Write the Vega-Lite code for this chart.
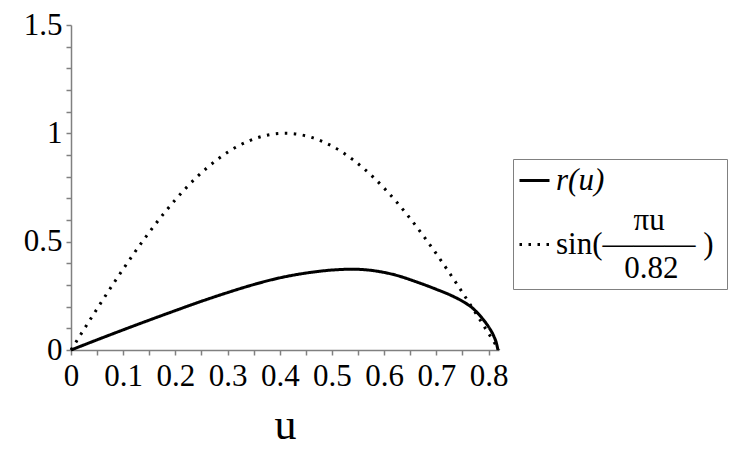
{
  "$schema": "https://vega.github.io/schema/vega-lite/v6.json",
  "autosize": "none",
  "width": 428,
  "height": 325,
  "padding": {"left": 71, "top": 25, "right": 233, "bottom": 100},
  "background": "white",
  "config": {
    "view": {"stroke": null},
    "font": "Liberation Serif"
  },
  "data": {"values": [
    {"u": 0, "v": 0, "series": "r(u)"},
    {"u": 0.05, "v": 0.047, "series": "r(u)"},
    {"u": 0.1, "v": 0.093, "series": "r(u)"},
    {"u": 0.15, "v": 0.138, "series": "r(u)"},
    {"u": 0.2, "v": 0.182, "series": "r(u)"},
    {"u": 0.25, "v": 0.225, "series": "r(u)"},
    {"u": 0.3, "v": 0.265, "series": "r(u)"},
    {"u": 0.35, "v": 0.302, "series": "r(u)"},
    {"u": 0.4, "v": 0.333, "series": "r(u)"},
    {"u": 0.45, "v": 0.355, "series": "r(u)"},
    {"u": 0.5, "v": 0.369, "series": "r(u)"},
    {"u": 0.54, "v": 0.373, "series": "r(u)"},
    {"u": 0.58, "v": 0.366, "series": "r(u)"},
    {"u": 0.62, "v": 0.347, "series": "r(u)"},
    {"u": 0.66, "v": 0.316, "series": "r(u)"},
    {"u": 0.7, "v": 0.28, "series": "r(u)"},
    {"u": 0.73, "v": 0.25, "series": "r(u)"},
    {"u": 0.75, "v": 0.225, "series": "r(u)"},
    {"u": 0.77, "v": 0.192, "series": "r(u)"},
    {"u": 0.78, "v": 0.168, "series": "r(u)"},
    {"u": 0.79, "v": 0.14, "series": "r(u)"},
    {"u": 0.8, "v": 0.107, "series": "r(u)"},
    {"u": 0.81, "v": 0.064, "series": "r(u)"},
    {"u": 0.815, "v": 0.032, "series": "r(u)"},
    {"u": 0.818, "v": 0, "series": "r(u)"},
    {"u": 0, "v": 0, "series": "sin(πu/0.82)"},
    {"u": 0.02, "v": 0.0766, "series": "sin(πu/0.82)"},
    {"u": 0.04, "v": 0.1527, "series": "sin(πu/0.82)"},
    {"u": 0.06, "v": 0.2279, "series": "sin(πu/0.82)"},
    {"u": 0.08, "v": 0.3017, "series": "sin(πu/0.82)"},
    {"u": 0.1, "v": 0.3738, "series": "sin(πu/0.82)"},
    {"u": 0.12, "v": 0.4437, "series": "sin(πu/0.82)"},
    {"u": 0.14, "v": 0.511, "series": "sin(πu/0.82)"},
    {"u": 0.16, "v": 0.5753, "series": "sin(πu/0.82)"},
    {"u": 0.18, "v": 0.6364, "series": "sin(πu/0.82)"},
    {"u": 0.2, "v": 0.6937, "series": "sin(πu/0.82)"},
    {"u": 0.22, "v": 0.7469, "series": "sin(πu/0.82)"},
    {"u": 0.24, "v": 0.7958, "series": "sin(πu/0.82)"},
    {"u": 0.26, "v": 0.8394, "series": "sin(πu/0.82)"},
    {"u": 0.28, "v": 0.8786, "series": "sin(πu/0.82)"},
    {"u": 0.3, "v": 0.9126, "series": "sin(πu/0.82)"},
    {"u": 0.32, "v": 0.9411, "series": "sin(πu/0.82)"},
    {"u": 0.34, "v": 0.9643, "series": "sin(πu/0.82)"},
    {"u": 0.36, "v": 0.9817, "series": "sin(πu/0.82)"},
    {"u": 0.38, "v": 0.9935, "series": "sin(πu/0.82)"},
    {"u": 0.4, "v": 0.9993, "series": "sin(πu/0.82)"},
    {"u": 0.41, "v": 1.0, "series": "sin(πu/0.82)"},
    {"u": 0.42, "v": 0.9993, "series": "sin(πu/0.82)"},
    {"u": 0.44, "v": 0.9935, "series": "sin(πu/0.82)"},
    {"u": 0.46, "v": 0.9817, "series": "sin(πu/0.82)"},
    {"u": 0.48, "v": 0.9643, "series": "sin(πu/0.82)"},
    {"u": 0.5, "v": 0.9411, "series": "sin(πu/0.82)"},
    {"u": 0.52, "v": 0.9126, "series": "sin(πu/0.82)"},
    {"u": 0.54, "v": 0.8786, "series": "sin(πu/0.82)"},
    {"u": 0.56, "v": 0.8394, "series": "sin(πu/0.82)"},
    {"u": 0.58, "v": 0.7958, "series": "sin(πu/0.82)"},
    {"u": 0.6, "v": 0.7469, "series": "sin(πu/0.82)"},
    {"u": 0.62, "v": 0.6937, "series": "sin(πu/0.82)"},
    {"u": 0.64, "v": 0.6364, "series": "sin(πu/0.82)"},
    {"u": 0.66, "v": 0.5753, "series": "sin(πu/0.82)"},
    {"u": 0.68, "v": 0.511, "series": "sin(πu/0.82)"},
    {"u": 0.7, "v": 0.4437, "series": "sin(πu/0.82)"},
    {"u": 0.72, "v": 0.3738, "series": "sin(πu/0.82)"},
    {"u": 0.74, "v": 0.3017, "series": "sin(πu/0.82)"},
    {"u": 0.76, "v": 0.2279, "series": "sin(πu/0.82)"},
    {"u": 0.78, "v": 0.1527, "series": "sin(πu/0.82)"},
    {"u": 0.8, "v": 0.0766, "series": "sin(πu/0.82)"},
    {"u": 0.82, "v": 0, "series": "sin(πu/0.82)"}
  ]},
  "mark": {"type": "line", "stroke": "black", "strokeWidth": 3, "clip": false, "interpolate": "monotone"},
  "encoding": {
    "x": {
      "field": "u", "type": "quantitative",
      "scale": {"domain": [0, 0.82], "nice": false, "zero": false},
      "axis": {
        "title": "u", "titleFont": "Liberation Serif", "titleFontSize": 44, "titleFontWeight": "normal", "titleColor": "black", "titlePadding": 12,
        "values": [0, 0.05, 0.1, 0.15, 0.2, 0.25, 0.3, 0.35, 0.4, 0.45, 0.5, 0.55, 0.6, 0.65, 0.7, 0.75, 0.8],
        "labelExpr": "round(datum.value * 100) % 10 == 0 ? format(datum.value, '~g') : ''",
        "labelFont": "Liberation Serif", "labelFontSize": 31, "labelColor": "black", "labelPadding": 6,
        "labelOverlap": false, "labelFlush": false,
        "grid": false, "domainColor": "#808080", "domainWidth": 1.5,
        "tickColor": "#808080", "tickWidth": 1.5, "tickSize": 5
      }
    },
    "y": {
      "field": "v", "type": "quantitative",
      "scale": {"domain": [0, 1.5], "nice": false},
      "axis": {
        "title": null,
        "values": [0, 0.1, 0.2, 0.3, 0.4, 0.5, 0.6, 0.7, 0.8, 0.9, 1, 1.1, 1.2, 1.3, 1.4, 1.5],
        "labelExpr": "round(datum.value * 10) % 5 == 0 ? format(datum.value, '~g') : ''",
        "labelFont": "Liberation Serif", "labelFontSize": 31, "labelColor": "black", "labelPadding": 4,
        "labelOverlap": false, "labelFlush": false,
        "grid": false, "domainColor": "#808080", "domainWidth": 1.5,
        "tickColor": "#808080", "tickWidth": 1.5, "tickSize": 5
      }
    },
    "strokeDash": {
      "field": "series", "type": "nominal",
      "scale": {"domain": ["r(u)", "sin(πu/0.82)"], "range": [[1, 0], [2.5, 6.5]]},
      "legend": {
        "orient": "none", "legendX": 442, "legendY": 134, "title": null,
        "symbolType": "stroke", "symbolSize": 900, "symbolStrokeWidth": 3, "symbolStrokeColor": "black",
        "labelFont": "Liberation Serif", "labelFontSize": 31, "labelColor": "black", "labelOffset": 5, "labelLimit": 400,
        "labelExpr": "datum.label == 'r(u)' ? 'r(u)' : ['\u200b\u00a0\u00a0\u00a0\u00a0\u00a0\u00a0\u00a0\u00a0\u00a0\u00a0πu', 'sin(———\u00a0)\u00a0\u200b', '\u200b\u00a0\u00a0\u00a0\u00a0\u00a0\u00a0\u00a0\u00a0\u20090.82']",
        "padding": 5, "rowPadding": 8,
        "strokeColor": "#808080", "fillColor": "white",
        "encode": {"labels": {"update": {
          "dy": {"signal": "datum.label == 'r(u)' ? 0 : -24"},
          "lineHeight": {"value": 24},
          "fontStyle": {"signal": "datum.label == 'r(u)' ? 'italic' : 'normal'"}
        }}}
      }
    }
  }
}
